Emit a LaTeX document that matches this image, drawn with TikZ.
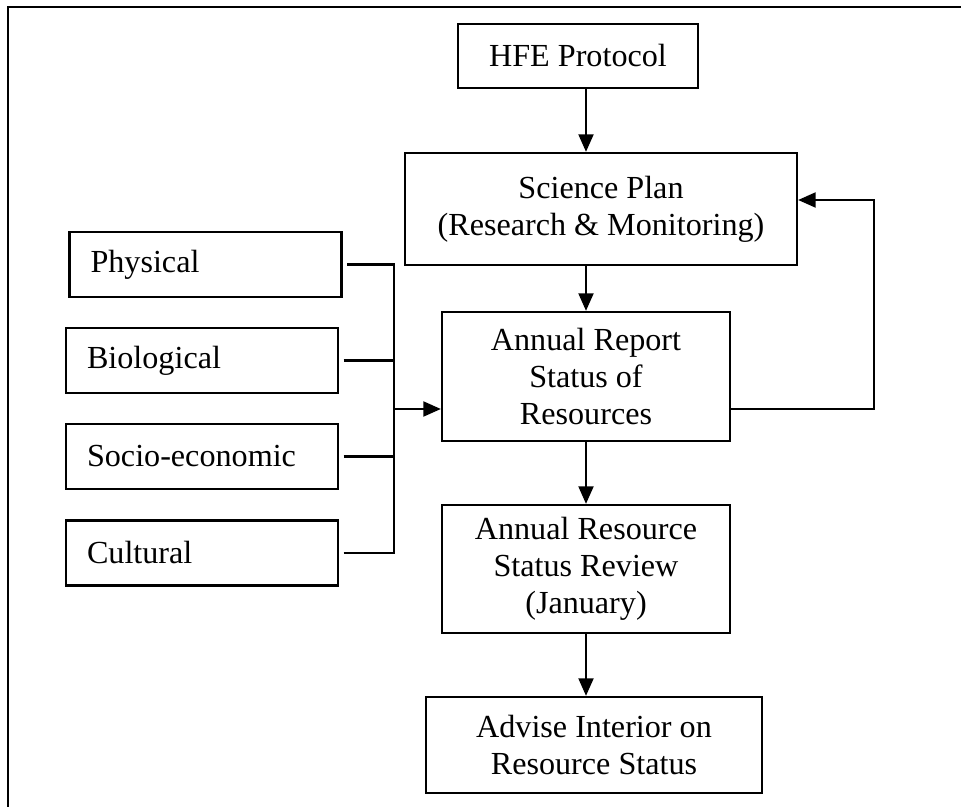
\documentclass[tikz,border=0pt]{standalone}
\usepackage{fontspec}
\setmainfont{Liberation Serif}
\usetikzlibrary{arrows.meta}

\tikzset{
  box/.style={draw, line width=1.3pt, align=center, inner sep=0pt, font=\fontsize{18.3}{21}\selectfont},
  sidebox/.style={draw, line width=1.3pt, align=left, text width=4.6cm, inner xsep=0.42cm, inner ysep=0pt, minimum height=1.3cm, font=\fontsize{18.3}{21}\selectfont},
  flow/.style={line width=1.3pt, -{Triangle[length=10pt,width=8.5pt]}},
  link/.style={line width=1.3pt}
}

\begin{document}
\begin{tikzpicture}[x=0.02cm,y=-0.02cm]
\useasboundingbox (0,0) rectangle (961,807);
\draw[line width=1.3pt] (8,807) -- (8,7) -- (961,7);

\node[box, minimum width=4.8cm, minimum height=1.28cm] (hfe) at (578,56) {HFE Protocol};
\node[box, minimum width=7.84cm, minimum height=2.24cm] (plan) at (601,209) {Science Plan\\(Research \& Monitoring)};
\node[box, minimum width=5.76cm, minimum height=2.58cm] (report) at (586,376.5) {Annual Report\\Status of\\Resources};
\node[box, minimum width=5.76cm, minimum height=2.56cm] (review) at (586,569) {Annual Resource\\Status Review\\(January)};
\node[box, minimum width=6.72cm, minimum height=1.92cm] (advise) at (594,745) {Advise Interior on\\Resource Status};

\node[sidebox] (phys) at (205.5,264.5) {Physical};
\node[sidebox] (bio) at (202,360.5) {Biological};
\node[sidebox] (socio) at (202,456.5) {Socio-economic};
\node[sidebox] (cult) at (202,553) {Cultural};

\coordinate (bus) at (394,409);
\coordinate (back) at (874,200);

\path[flow] (hfe.south -| report) edge (plan.north -| report);
\path[flow] (plan.south -| report) edge (report.north);
\path[flow] (report.south) edge (review.north);
\path[flow] (review.south) edge (review.south |- advise.north);

\draw[link, shorten <=2.5pt] (phys.east) -| (bus);
\draw[link, shorten <=2.5pt] (bio.east) -| (bus);
\draw[link, shorten <=2.5pt] (socio.east) -| (bus);
\draw[link, shorten <=2.5pt] (cult.east) -| (bus);
\draw[flow] (bus) -- (bus -| report.west);

\draw[flow] (bus -| report.east) -| (back) -- (back -| plan.east);
\end{tikzpicture}
\end{document}
